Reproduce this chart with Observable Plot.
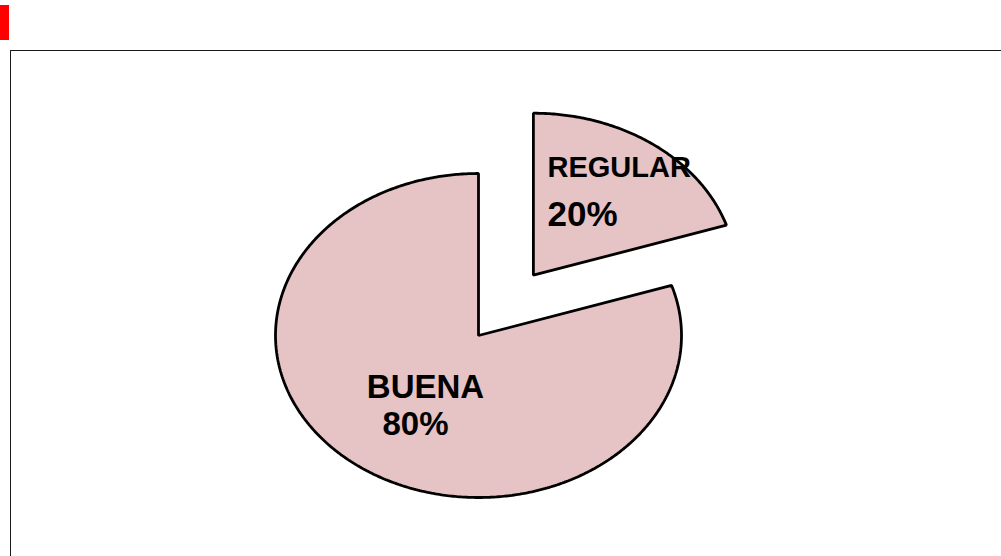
<!DOCTYPE html>
<html>
<head>
<meta charset="utf-8">
<script src="https://cdn.jsdelivr.net/npm/d3@7"></script>
<script src="https://cdn.jsdelivr.net/npm/@observablehq/plot@0.6"></script>
<style>
  html, body { margin: 0; padding: 0; background: #ffffff; }
  #wrap { position: relative; width: 1001px; height: 556px; overflow: hidden; }
  #redmark { position: absolute; left: 0; top: 5px; width: 9px; height: 35px; background: #ff0000; }
  #frame { position: absolute; left: 10px; top: 50px; width: 1100px; height: 600px; border: 1.5px solid #1a1a1a; box-sizing: border-box; }
  #chart { position: absolute; left: 0; top: 0; }
</style>
</head>
<body>
<div id="wrap">
  <div id="redmark"></div>
  <div id="frame"></div>
  <div id="chart"></div>
</div>
<script>
// ---- data ----
const categories = ["REGULAR", "BUENA"];
const values = [20, 80];
const percentLabels = ["20%", "80%"];

// ---- layout (not data) ----
const explode = [0.46, 0];
const namePos = [[0.34, 0.981], [-0.55, -0.383]];
const pctPos = [[0.34, 0.673], [-0.473, -0.617]];
const nameSize = [29, 33];
const pctSize = [35, 33];

const arcs = d3.pie().sort(null).value(d => d)(values);
const slices = [];
arcs.forEach((a, i) => {
  const mid = (a.startAngle + a.endAngle) / 2;
  const ox = explode[i] * Math.sin(mid), oy = explode[i] * Math.cos(mid);
  slices.push({cat: categories[i], x: ox, y: oy});
  const n = Math.ceil((a.endAngle - a.startAngle) / 0.01);
  for (let k = 0; k <= n; k++) {
    const t = a.startAngle + (a.endAngle - a.startAngle) * k / n;
    slices.push({cat: categories[i], x: ox + Math.sin(t), y: oy + Math.cos(t)});
  }
});

const names = categories.map((c, i) => ({text: c, x: namePos[i][0], y: namePos[i][1], size: nameSize[i]}));
const pcts = percentLabels.map((c, i) => ({text: c, x: pctPos[i][0], y: pctPos[i][1], size: pctSize[i]}));

const font = "Liberation Sans, Arial, Helvetica, sans-serif";

const textMarks = [...names, ...pcts].map(d => Plot.text([d], {
  x: "x", y: "y", text: "text", textAnchor: "start", lineAnchor: "bottom",
  fontSize: d.size, fontWeight: "bold", fontFamily: font, fill: "#000000"
}));

const chart = Plot.plot({
  width: 1001,
  height: 556,
  margin: 0,
  x: {domain: [-1, 1], range: [275, 681], axis: null},
  y: {domain: [-1, 1], range: [497, 173], axis: null},
  style: {background: "transparent", overflow: "visible"},
  marks: [
    Plot.line(slices, {x: "x", y: "y", z: "cat", curve: "linear-closed", fill: "#e6c3c4", stroke: "none"}),
    Plot.line(slices, {x: "x", y: "y", z: "cat", curve: "linear-closed", fill: "#ffffff", stroke: "none", ariaLabel: "pie-texture"}),
    Plot.line(slices, {x: "x", y: "y", z: "cat", curve: "linear-closed", fill: "none", stroke: "#000000", strokeWidth: 2.8, strokeLinejoin: "miter"}),
    ...textMarks
  ]
});

// mottled texture layer
const svg = d3.select(chart);
const defs = svg.append("defs");
const f = defs.append("filter").attr("id", "mottle")
  .attr("filterUnits", "userSpaceOnUse").attr("x", 0).attr("y", 0).attr("width", 1001).attr("height", 556);
f.append("feTurbulence").attr("type", "fractalNoise").attr("baseFrequency", "0.04").attr("numOctaves", 4).attr("seed", 7).attr("result", "noise");
f.append("feColorMatrix").attr("in", "noise").attr("type", "matrix")
  .attr("values", "0 0 0 0 1  0 0 0 0 1  0 0 0 0 1  1.1 0 0 0 -0.5").attr("result", "light");
f.append("feComposite").attr("in", "light").attr("in2", "SourceAlpha").attr("operator", "in");
svg.select('[aria-label="pie-texture"]').attr("filter", "url(#mottle)");

document.getElementById("chart").appendChild(chart);
</script>
</body>
</html>
